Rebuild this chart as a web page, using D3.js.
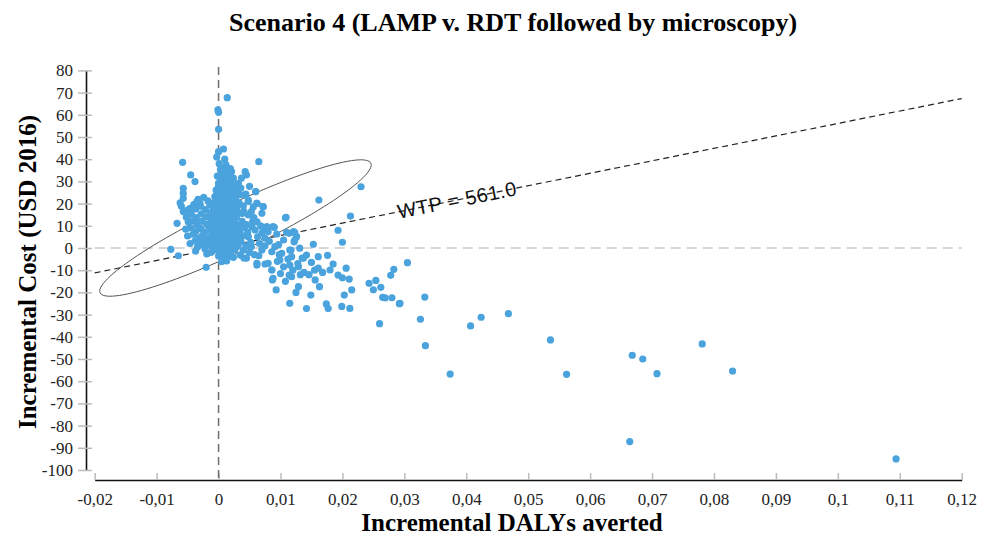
<!DOCTYPE html>
<html>
<head>
<meta charset="utf-8">
<script src="https://cdn.jsdelivr.net/npm/d3@7"></script>
<style>
  body { margin: 0; background: #fff; }
  text { font-family: "Liberation Serif", "Times New Roman", serif; }
</style>
</head>
<body>
<div id="chart"></div>
<script>
// tick values
const xTicks = [-0.02, -0.01, 0, 0.01, 0.02, 0.03, 0.04, 0.05, 0.06, 0.07, 0.08, 0.09, 0.1, 0.11, 0.12];
const yTicks = [80, 70, 60, 50, 40, 30, 20, 10, 0, -10, -20, -30, -40, -50, -60, -70, -80, -90, -100];

// willingness to pay (USD per DALY)
const wtp = 561.0;

// 95% ellipse: centre and the two semi-axis vectors, in data units
const ellipseCenter = [0.00273, 9.0];
const ellipseMajor = [0.02186, 29.2];
const ellipseMinor = [-0.00164, 9.55];

// simulation results [incremental DALYs averted, incremental cost]
const outliers = [
  [0.1094,-95],[0.0830,-55.4],[0.0781,-43.2],[0.0708,-56.6],[0.0685,-50],[0.0668,-48.3],
  [0.0664,-87.2],[0.0562,-56.9],[0.0536,-41.4],[0.0468,-29.6],[0.0424,-31.2],[0.0407,-35.1],
  [0.0374,-56.8],[0.0334,-44],[0.0333,-22.1],[0.0326,-32.1],[0.0305,-6.6],[0.0293,-24.9],
  [0.0014,67.7],[-0.0001,62.2],[0.0000,61.1],[0.0000,53.5],[0.0008,44.6],[0.0000,43.4],[-0.0003,41.0]
];

const tail = [
  [0.0230,27.6],[0.0162,21.6],[0.0213,14.4],[0.0109,13.8],[0.0193,8],[0.0200,2.6],[0.0153,1.7],
  [0.0176,-3.3],[0.0161,-3.9],[0.0283,-9.6],[0.0278,-12.3],[0.0185,-7.2],[0.0206,-9.1],[0.0180,-9.9],
  [0.0193,-12.2],[0.0200,-13.4],[0.0211,-14],[0.0215,-18.9],[0.0203,-21.2],[0.0199,-26.3],[0.0212,-27.2],
  [0.0243,-15.9],[0.0254,-14.6],[0.0250,-18.8],[0.0262,-17.7],[0.0265,-22.2],[0.0269,-22.5],[0.0280,-22.4],
  [0.0292,-25.1],[0.0260,-34.1],[0.0142,-27.3],[0.0174,-25.2],[0.0177,-27.3],[0.0115,-24.9],[0.0149,-21.2],
  [0.0125,-20],[0.0129,-17.4],[0.0163,-17.4],[0.0156,-14.4],[0.0161,-9.1],[0.0138,-11],[0.0132,-12],
  [0.0146,-12],[0.0114,-12.2],[0.0093,-18.9],[0.0087,-14.4],[0.0086,-9.9],[0.0075,-7.2],[0.0062,-7.7],
  [0.0142,-3.2],[0.0117,-0.9],[0.0121,7.4],[0.0126,5.1],[0.0122,2.8],[0.0114,6.6],[0.0088,9.6],
  [0.0072,8.1],[0.0072,18.6],[0.0062,20.1],[0.0060,25.4],[0.0044,24.3],[0.0048,20.9],
  [0.0095,-6],[0.0105,-8.5],[0.0112,-5],[0.0128,-7],[0.0135,-4.5],[0.0150,-6.5],[0.0168,-11],
  [0.0155,-10],[0.0100,-11.5],[0.0108,-15],[0.0120,-10],[0.0098,-3]
];

const rightCluster = [
  [0.0065,38.9],[0.0043,34.4],[0.0045,32.9],[0.0021,34.4],[0.0032,29.1],[0.0060,25.4],[0.0043,23.9],
  [0.0048,21.6],[0.0062,20.1],[0.0072,18.6],[0.0070,15.6],[0.0053,16.4],[0.0048,14.9],[0.0108,13.6],
  [0.0062,11.8],[0.0078,9.6],[0.0090,9.3],[0.0059,8.1],[0.0070,6.6],[0.0080,7.3],[0.0094,6.3],
  [0.0110,7.1],[0.0123,6.9],[0.0123,3.6],[0.0105,3.6],[0.0075,4.4],[0.0048,5.1],[0.0091,0.6],
  [0.0115,-0.9],[0.0131,-0.1],[0.0137,-4.6],[0.0118,-3.9],[0.0102,-2.4],[0.0086,-1.7],[0.0070,-0.9],
  [0.0053,0.6],[0.0035,-3.2],[0.0045,-4.6],[0.0062,-6.9],[0.0080,-6.9],[0.0099,-5.4],[0.0115,-7.7],
  [0.0129,-8.4],[0.0086,-9.9],[0.0088,-13.7],[0.0118,-12.9],
  [0.0036,27],[0.0040,19],[0.0038,12],[0.0042,9],[0.0036,3],[0.0055,12],[0.0052,2.5],[0.0040,-1],
  [0.0058,-3],[0.0033,20.5],[0.0050,27.8],[0.0038,15.5],[0.0066,2],[0.0057,13.7],[0.0045,10.5],
  [0.0034,7],[0.0068,10],[0.0082,3],[0.0065,-3.5],
  [0.0037,31.5],[0.0035,24],[0.0041,16.5],[0.0044,1],[0.0050,-2],[0.0039,5.5],[0.0054,9.5],
  [0.0047,7],[0.0063,5],[0.0056,18.5],[0.0036,10],[0.0041,-4.5],[0.0075,1],[0.0097,1.5]
];

const core = [
  [0.0010,40],[0.0001,38],[0.0012,37.5],[0.0005,36],[0.0018,35.5],
  [0.0003,35.2],[0.0011,34.8],[0.0019,35.8],
  [-0.0002,32.4],[0.0006,31.8],[0.0014,32.6],[0.0024,31.5],
  [0.0000,29.2],[0.0008,28.6],[0.0016,29.5],[0.0025,28.3],
  [-0.0004,26.1],[0.0004,25.7],[0.0012,26.4],[0.0020,25.9],[0.0028,26.6],
  [-0.0006,23.2],[0.0002,22.8],[0.0010,23.5],[0.0018,22.6],[0.0026,23.1],
  [-0.0008,20.3],[0.0000,19.9],[0.0008,20.6],[0.0016,19.7],[0.0024,20.4],[0.0031,19.5],
  [-0.0009,17.1],[-0.0001,16.8],[0.0007,17.4],[0.0015,16.6],[0.0023,17.2],[0.0030,16.9],
  [-0.0010,14.2],[-0.0002,13.8],[0.0006,14.5],[0.0014,13.6],[0.0022,14.1],[0.0029,13.9],
  [-0.0011,11.3],[-0.0003,10.7],[0.0005,11.4],[0.0013,10.9],[0.0021,11.2],[0.0029,10.6],
  [-0.0010,8.1],[-0.0002,7.6],[0.0006,8.3],[0.0014,7.8],[0.0022,8.2],[0.0030,7.7],
  [-0.0009,5.2],[-0.0001,4.6],[0.0007,5.4],[0.0015,4.9],[0.0023,5.1],[0.0031,4.7],
  [-0.0008,2.1],[0.0000,1.7],[0.0008,2.4],[0.0016,1.8],[0.0024,2.2],[0.0032,1.6],
  [-0.0006,-0.8],[0.0002,-1.3],[0.0010,-0.6],[0.0018,-1.1],[0.0026,-0.9],
  [0.0000,-3.6],[0.0008,-4.4],[0.0016,-3.8],[0.0024,-4.2],
  [0.0005,-6.1],[0.0013,-5.8],
  [0.0007,33.4],[0.0016,33.9],
  [0.0004,30.6],[0.0012,30.2],[0.0020,30.9],
  [0.0000,27.7],[0.0008,27.3],[0.0017,27.9],[0.0024,27.1],
  [-0.0002,24.6],[0.0006,24.2],[0.0014,24.9],[0.0022,24.3],[0.0030,24.8],
  [-0.0004,21.7],[0.0004,21.2],[0.0012,21.9],[0.0020,21.4],[0.0028,21.6],
  [-0.0005,18.6],[0.0003,18.2],[0.0011,18.9],[0.0019,18.3],[0.0027,18.7],
  [-0.0006,15.7],[0.0002,15.3],[0.0010,15.9],[0.0018,15.2],[0.0026,15.6],
  [-0.0007,12.6],[0.0001,12.3],[0.0009,12.8],[0.0017,12.2],[0.0025,12.7],
  [-0.0006,9.7],[0.0002,9.2],[0.0010,9.8],[0.0018,9.3],[0.0026,9.6],
  [-0.0005,6.7],[0.0003,6.2],[0.0011,6.8],[0.0019,6.3],[0.0027,6.6],
  [-0.0004,3.6],[0.0004,3.2],[0.0012,3.8],[0.0020,3.3],[0.0028,3.5],
  [-0.0003,0.6],[0.0005,0.2],[0.0013,0.8],[0.0021,0.3],[0.0029,0.5],
  [0.0003,-2.4],[0.0011,-2.8],[0.0019,-2.2]
];

const leftCluster = [
  [-0.0058,38.6],[-0.0045,32.9],[-0.0038,29.9],[-0.0057,26.9],[-0.0057,24.6],[-0.0057,22.4],
  [-0.0035,20.9],[-0.0030,20.1],[-0.0057,16.4],[-0.0050,17.1],[-0.0046,17.9],[-0.0067,11.1],
  [-0.0049,11.8],[-0.0077,-0.6],[-0.0065,-3.5],[-0.0037,-1.4],[-0.0020,-8.7],[-0.0019,-2.7],
  [-0.0044,15.2],[-0.0043,12.1],[-0.0045,9.0],[-0.0041,6.2],[-0.0038,3.1],[-0.0034,0.4],
  [-0.0037,17.6],[-0.0036,13.7],[-0.0035,10.5],[-0.0037,7.4],[-0.0032,4.5],[-0.0029,1.6],
  [-0.0029,18.8],[-0.0028,15.4],[-0.0027,12.0],[-0.0029,8.8],[-0.0026,5.7],[-0.0023,2.8],[-0.0022,-0.3],
  [-0.0021,17.3],[-0.0020,14.0],[-0.0019,10.6],[-0.0021,7.3],[-0.0018,4.2],[-0.0015,1.2],
  [-0.0014,19.5],[-0.0013,15.7],[-0.0012,12.4],[-0.0014,9.1],[-0.0011,5.8],[-0.0010,2.7],
  [-0.0008,-0.5],[-0.0012,-2.0],
  [-0.0040,19.6],[-0.0033,21.9],[-0.0052,13.9],[-0.0050,5.4],[-0.0046,2.0],[-0.0024,22.8],
  [-0.0017,21.2],[-0.0053,8.5],[-0.0062,20.3],[-0.0060,18.8]
];

const points = [].concat(outliers, tail, rightCluster, core, leftCluster);

// set the dimensions of the graph
const width = 989, height = 537;

const svg = d3.select("#chart")
  .append("svg")
  .attr("width", width)
  .attr("height", height);

const x = d3.scaleLinear()
  .domain([-0.02, 0.12])
  .range([94.7, 961.7]);

const y = d3.scaleLinear()
  .domain([-100, 80])
  .range([470, 70.4]);

// decimal comma and a plain hyphen for negatives
const fmt = d => String(+d.toFixed(2)).replace(".", ",");

// X axis, inner ticks pointing up
const gx = svg.append("g")
  .attr("transform", "translate(0,480)")
  .call(d3.axisBottom(x).tickValues(xTicks).tickFormat(fmt).tickSize(-7).tickSizeOuter(0).tickPadding(13));
gx.select(".domain").attr("stroke", "#111").attr("stroke-width", 1.6);
gx.selectAll(".tick line").attr("stroke", "#bbb").attr("stroke-width", 1.5);
gx.selectAll(".tick text").attr("font-size", 17).attr("fill", "#222")
  .style("font-family", "Liberation Serif, serif");

// Y axis, ticks across the line
const gy = svg.append("g")
  .attr("transform", "translate(86,0)")
  .call(d3.axisLeft(y).tickValues(yTicks).tickFormat(fmt).tickSize(8).tickSizeOuter(0).tickPadding(5));
gy.select(".domain").attr("stroke", "#111").attr("stroke-width", 1.6);
gy.selectAll(".tick line").attr("x1", 6).attr("stroke", "#bbb").attr("stroke-width", 1.5);
gy.selectAll(".tick text").attr("font-size", 17).attr("fill", "#222")
  .style("font-family", "Liberation Serif, serif");

// reference lines through the origin
svg.append("line")
  .attr("x1", x(-0.02)).attr("x2", x(0.12))
  .attr("y1", y(0)).attr("y2", y(0))
  .attr("stroke", "#c9c9c9").attr("stroke-width", 1.6)
  .attr("stroke-dasharray", "10,6");

svg.append("line")
  .attr("x1", x(0)).attr("x2", x(0))
  .attr("y1", 67).attr("y2", 480)
  .attr("stroke", "#6e6e6e").attr("stroke-width", 1.5)
  .attr("stroke-dasharray", "8,5");

// confidence ellipse
const ellipsePts = d3.range(0, 361, 3).map(a => {
  const t = a * Math.PI / 180;
  return [
    ellipseCenter[0] + Math.cos(t) * ellipseMajor[0] + Math.sin(t) * ellipseMinor[0],
    ellipseCenter[1] + Math.cos(t) * ellipseMajor[1] + Math.sin(t) * ellipseMinor[1]
  ];
});
svg.append("path")
  .datum(ellipsePts)
  .attr("d", d3.line().x(d => x(d[0])).y(d => y(d[1])))
  .attr("fill", "none")
  .attr("stroke", "#555")
  .attr("stroke-width", 1);

// WTP threshold line
svg.append("line")
  .attr("x1", x(-0.02)).attr("y1", y(-0.02 * wtp))
  .attr("x2", x(0.12)).attr("y2", y(0.12 * wtp))
  .attr("stroke", "#222").attr("stroke-width", 1.2)
  .attr("stroke-dasharray", "6,4");

// dots
svg.append("g")
  .selectAll("circle")
  .data(points)
  .enter()
  .append("circle")
    .attr("cx", d => x(d[0]))
    .attr("cy", d => y(d[1]))
    .attr("r", 3.6)
    .style("fill", "#4aa3dd");

// WTP label along the line
const lx = 0.0385;
const ang = Math.atan2(y(0.12 * wtp) - y(-0.02 * wtp), x(0.12) - x(-0.02)) * 180 / Math.PI;
svg.append("text")
  .attr("transform", "translate(" + x(lx) + "," + y(lx * wtp) + ") rotate(" + ang + ")")
  .attr("text-anchor", "middle")
  .attr("dy", "0.35em")
  .attr("font-size", 20)
  .attr("letter-spacing", 0.4)
  .style("font-family", "Liberation Sans, Arial, sans-serif")
  .attr("fill", "#111")
  .text("WTP = " + wtp.toFixed(1));

// titles
svg.append("text")
  .attr("x", 513).attr("y", 31)
  .attr("text-anchor", "middle")
  .attr("font-size", 26).attr("font-weight", "bold")
  .text("Scenario 4 (LAMP v. RDT followed by microscopy)");

svg.append("text")
  .attr("x", 512).attr("y", 531)
  .attr("text-anchor", "middle")
  .attr("font-size", 25).attr("font-weight", "bold")
  .text("Incremental DALYs averted");

svg.append("text")
  .attr("transform", "translate(36,272) rotate(-90)")
  .attr("text-anchor", "middle")
  .attr("font-size", 25).attr("font-weight", "bold")
  .text("Incremental Cost (USD 2016)");
</script>
</body>
</html>
